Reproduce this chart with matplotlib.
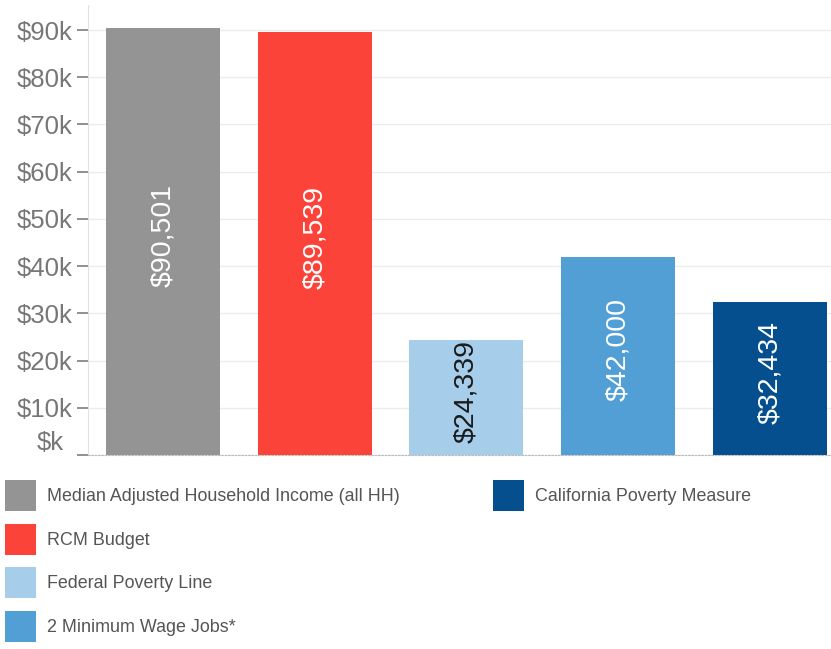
import matplotlib
matplotlib.use("Agg")
import matplotlib.pyplot as plt
from matplotlib.patches import Patch
from matplotlib.transforms import ScaledTranslation

categories = ["Median Adjusted Household Income (all HH)", "RCM Budget",
              "Federal Poverty Line", "2 Minimum Wage Jobs*",
              "California Poverty Measure"]
values = [90501, 89539, 24339, 42000, 32434]
value_labels = ["$90,501", "$89,539", "$24,339", "$42,000", "$32,434"]
colors = ["#949494", "#fb4339", "#a6cde9", "#519fd4", "#064f8f"]
label_colors = ["white", "white", "#1a1a1a", "white", "white"]
yticks = [0, 10000, 20000, 30000, 40000, 50000, 60000, 70000, 80000, 90000]
ytick_labels = ["$k", "$10k", "$20k", "$30k", "$40k", "$50k", "$60k", "$70k", "$80k", "$90k"]

plt.rcParams['font.family'] = ['Liberation Sans', 'DejaVu Sans']

fig = plt.figure(figsize=(8.31, 6.49), dpi=100)
ax = fig.add_axes([88/831, (649-455)/649, 743/831, 450/649])

x = list(range(len(values)))
bars = ax.bar(x, values, width=0.751, color=colors, zorder=2)

for xi, v, lab, lc in zip(x, values, value_labels, label_colors):
    ax.annotate(lab, xy=(xi, v/2), xytext=(0, 6), textcoords='offset pixels',
                rotation=90, ha='center', va='center',
                color=lc, fontsize=20.5, zorder=3)

ax.set_xlim(-0.494, 4.402)
ax.set_ylim(0, 95300)
ax.set_yticks(yticks)
ax.set_yticklabels(ytick_labels)
ax.set_xticks([])
ax.tick_params(axis='y', direction='out', length=8, width=1.3, color='#888888',
               labelcolor='#777777', labelsize=18.5, pad=3)
ax.yaxis.grid(True, color='#ececec', linewidth=1, zorder=0)
ax.set_axisbelow(True)

for s in ['top', 'right']:
    ax.spines[s].set_visible(False)
ax.spines['left'].set_color('#e2e2e2')
ax.spines['bottom'].set_color('#bbbbbb')
ax.spines['bottom'].set_linestyle((0, (1.5, 1.5)))

# offset "$k" label above its tick
lbl0 = ax.get_yticklabels()[0]
lbl0.set_transform(lbl0.get_transform() + ScaledTranslation(-9/100, 15/100, fig.dpi_scale_trans))

fs_pt = 12.85
fs_px = fs_pt * 100 / 72
sq = 31.0
hh = (sq / fs_px - 0.245) / 0.65
pitch = 43.7
lspace = (pitch - sq) / fs_px

handles = [Patch(facecolor=c, edgecolor='none') for c in colors]
blank = Patch(facecolor='none', edgecolor='none')
order_handles = handles[:4] + [handles[4], blank, blank, blank]
order_labels = categories[:4] + [categories[4], "", "", ""]
fig.legend(order_handles, order_labels, ncol=2, loc='upper left',
           bbox_to_anchor=(5/831, 1-480/649), frameon=False,
           fontsize=fs_pt, handlelength=sq/fs_px, handleheight=hh,
           handletextpad=11/fs_px, labelspacing=lspace, columnspacing=5.2,
           borderpad=0, borderaxespad=0, labelcolor='#555555')

fig.savefig("out.png", dpi=100)
